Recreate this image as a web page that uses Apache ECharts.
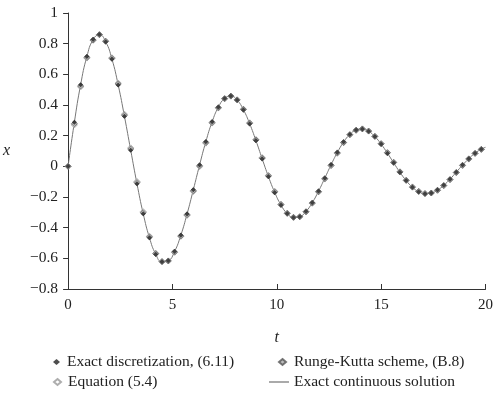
<!DOCTYPE html>
<html>
<head>
<meta charset="utf-8">
<script src="https://cdn.jsdelivr.net/npm/echarts@6/dist/echarts.min.js"></script>
<style>
  html, body { margin: 0; padding: 0; background: #fff; }
  #chart { width: 496px; height: 396px; }
</style>
</head>
<body>
<div id="chart"></div>
<script>
// sample times of the discrete schemes
const tVals = [0, 0.3, 0.6, 0.9, 1.2, 1.5, 1.8, 2.1, 2.4, 2.7, 3.0, 3.3, 3.6, 3.9, 4.2, 4.5, 4.8, 5.1, 5.4, 5.7,
  6.0, 6.3, 6.6, 6.9, 7.2, 7.5, 7.8, 8.1, 8.4, 8.7, 9.0, 9.3, 9.6, 9.9, 10.2, 10.5, 10.8, 11.1, 11.4, 11.7,
  12.0, 12.3, 12.6, 12.9, 13.2, 13.5, 13.8, 14.1, 14.4, 14.7, 15.0, 15.3, 15.6, 15.9, 16.2, 16.5, 16.8, 17.1,
  17.4, 17.7, 18.0, 18.3, 18.6, 18.9, 19.2, 19.5, 19.8];

const exactDisc = [0, 0.287, 0.532, 0.716, 0.827, 0.859, 0.813, 0.700, 0.531, 0.326, 0.105, -0.113, -0.309, -0.466,
  -0.573, -0.623, -0.616, -0.556, -0.450, -0.311, -0.153, 0.009, 0.161, 0.290, 0.386, 0.443, 0.458, 0.432, 0.369,
  0.278, 0.168, 0.049, -0.067, -0.170, -0.252, -0.308, -0.333, -0.328, -0.294, -0.237, -0.162, -0.077, 0.010,
  0.090, 0.158, 0.208, 0.237, 0.244, 0.229, 0.194, 0.145, 0.086, 0.023, -0.039, -0.093, -0.137, -0.165, -0.178,
  -0.174, -0.155, -0.124, -0.084, -0.038, 0.008, 0.050, 0.086, 0.112];

const eq54 = [0, 0.270, 0.518, 0.706, 0.822, 0.858, 0.817, 0.708, 0.543, 0.340, 0.120, -0.099, -0.296, -0.456,
  -0.567, -0.620, -0.617, -0.561, -0.457, -0.320, -0.164, -0.002, 0.151, 0.282, 0.380, 0.440, 0.458, 0.434, 0.373,
  0.284, 0.175, 0.057, -0.059, -0.163, -0.247, -0.305, -0.332, -0.329, -0.297, -0.241, -0.167, -0.083, 0.004,
  0.085, 0.154, 0.205, 0.235, 0.244, 0.230, 0.196, 0.148, 0.090, 0.027, -0.035, -0.090, -0.134, -0.163, -0.177,
  -0.174, -0.156, -0.126, -0.087, -0.041, 0.005, 0.047, 0.084, 0.110];

const rungeKutta = [0, 0.278, 0.524, 0.711, 0.824, 0.859, 0.815, 0.704, 0.537, 0.333, 0.113, -0.106, -0.303, -0.461,
  -0.570, -0.622, -0.617, -0.559, -0.454, -0.316, -0.159, 0.004, 0.156, 0.286, 0.383, 0.442, 0.458, 0.433, 0.371,
  0.281, 0.172, 0.053, -0.063, -0.167, -0.250, -0.307, -0.333, -0.329, -0.296, -0.239, -0.165, -0.080, 0.007,
  0.088, 0.156, 0.207, 0.236, 0.244, 0.230, 0.195, 0.147, 0.088, 0.025, -0.037, -0.092, -0.136, -0.164, -0.178,
  -0.174, -0.156, -0.125, -0.086, -0.040, 0.007, 0.049, 0.085, 0.111];

// continuous solution, same samples plus the end point t = 20
const contT = tVals.concat([20]);
const contX = exactDisc.concat([0.124]);

const names = ['Exact discretization, (6.11)', 'Equation (5.4)', 'Runge-Kutta scheme, (B.8)', 'Exact continuous solution'];

function pairs(xs, ys) {
  return xs.map((x, i) => [x, ys[i]]);
}

const font = '"Liberation Serif", "DejaVu Serif", serif';

// one legend per entry so the two columns line up like the figure
function legendItem(name, left, top, w, textPad, icon) {
  const item = icon ? { name: name, icon: icon } : name;
  return {
    data: [item], left: left, top: top, padding: 0,
    itemWidth: w, itemHeight: 6, itemGap: 0,
    textStyle: { fontFamily: font, fontSize: 15.5, color: '#222', padding: [0, 0, 0, textPad] }
  };
}

const chart = echarts.init(document.getElementById('chart'));

const option = {
  animation: false,
  grid: { left: 67, right: 9, top: 13, bottom: 107 },
  legend: [
    legendItem(names[0], 53, 354, 7, 2),
    legendItem(names[1], 53, 374, 7, 2),
    legendItem(names[2], 278, 354, 7, 3),
    legendItem(names[3], 269, 374, 20, 0, 'path://M0,0 L20,0 L20,1 L0,1 Z')
  ],
  xAxis: {
    type: 'value',
    min: 0, max: 20, interval: 5,
    name: 't',
    nameLocation: 'middle',
    nameGap: 41,
    nameTextStyle: { fontFamily: font, fontSize: 16, fontStyle: 'italic', color: '#222' },
    axisLine: { onZero: false, lineStyle: { color: '#333', width: 1 } },
    axisTick: { inside: true, length: 5, lineStyle: { color: '#333' } },
    axisLabel: { fontFamily: font, fontSize: 15, color: '#222', margin: 9 },
    splitLine: { show: false }
  },
  yAxis: {
    type: 'value',
    min: -0.8, max: 1, interval: 0.2,
    name: 'x',
    nameLocation: 'middle',
    nameGap: 58,
    nameRotate: 0,
    nameTextStyle: { fontFamily: font, fontSize: 16, fontStyle: 'italic', color: '#222' },
    axisLine: { show: true, onZero: false, lineStyle: { color: '#333', width: 1 } },
    axisTick: { show: true, length: 5, lineStyle: { color: '#333' } },
    axisLabel: {
      fontFamily: font, fontSize: 15.5, color: '#222', margin: 10,
      formatter: v => String(Math.round(v * 10) / 10).replace('-', '\u2212')
    },
    splitLine: { show: false }
  },
  series: [
    {
      name: names[3],
      type: 'line',
      data: pairs(contT, contX),
      smooth: true,
      symbol: 'none',
      lineStyle: { color: '#777', width: 1 },
      itemStyle: { color: '#555' },
      z: 1
    },
    {
      name: names[1],
      type: 'scatter',
      data: pairs(tVals, eq54),
      symbol: 'diamond',
      symbolSize: 6,
      itemStyle: { color: '#fff', borderColor: '#999', borderWidth: 1 },
      z: 2
    },
    {
      name: names[2],
      type: 'scatter',
      data: pairs(tVals, rungeKutta),
      symbol: 'diamond',
      symbolSize: 6,
      itemStyle: { color: '#aaa', borderColor: '#555', borderWidth: 0.8 },
      z: 3
    },
    {
      name: names[0],
      type: 'scatter',
      data: pairs(tVals, exactDisc),
      symbol: 'diamond',
      symbolSize: 5,
      itemStyle: { color: '#222' },
      z: 4
    }
  ]
};

chart.setOption(option);
</script>
</body>
</html>
